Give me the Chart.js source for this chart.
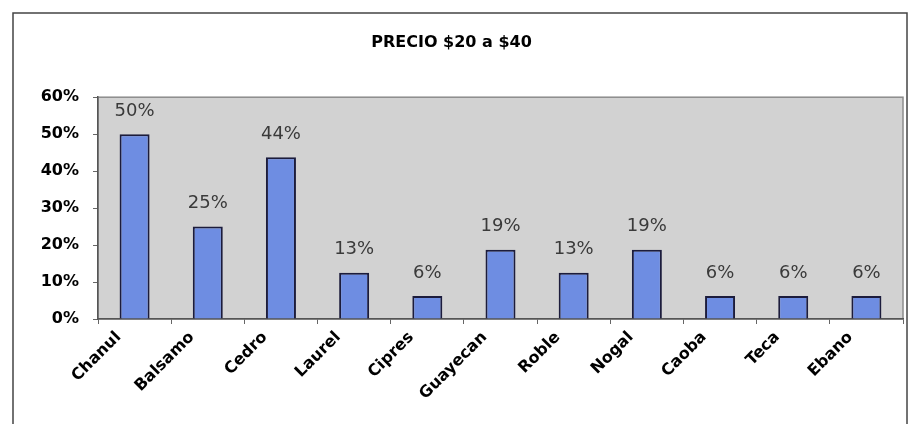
<!DOCTYPE html>
<html>
<head>
<meta charset="utf-8">
<script src="https://cdn.jsdelivr.net/npm/chart.js@4"></script>
<style>
  html, body { margin: 0; padding: 0; background: #fff; }
  #wrap { width: 908px; height: 424px; }
</style>
</head>
<body>
<div id="wrap"><canvas id="graf" width="908" height="424"></canvas></div>
<script>
// datos
const maderas = ['Chanul', 'Balsamo', 'Cedro', 'Laurel', 'Cipres', 'Guayecan', 'Roble', 'Nogal', 'Caoba', 'Teca', 'Ebano']
const porcentajes = [0.5, 0.25, 0.4375, 0.125, 0.0625, 0.1875, 0.125, 0.1875, 0.0625, 0.0625, 0.0625]
const titulo = 'PRECIO $20 a $40'

const pct = v => Math.round(v * 100) + '%'
const fuente = '"DejaVu Sans", sans-serif'

// fondo gris del area de trazado + marco exterior
const fondo = {
    id: 'fondo',
    beforeDraw(chart) {
        const { ctx, chartArea: a } = chart
        ctx.save()
        ctx.fillStyle = '#d2d2d2'
        ctx.fillRect(a.left, a.top, a.right - a.left, a.bottom - a.top)
        ctx.strokeStyle = '#8c8c8c'
        ctx.lineWidth = 1.5
        ctx.strokeRect(a.left, a.top, a.right - a.left, a.bottom - a.top)
        ctx.strokeStyle = '#444'
        ctx.lineWidth = 1.5
        ctx.strokeRect(13, 13, 894, 420)
        ctx.restore()
    }
}

// etiquetas encima de las barras
const etiquetas = {
    id: 'etiquetas',
    afterDatasetsDraw(chart) {
        const { ctx } = chart
        const meta = chart.getDatasetMeta(0)
        ctx.save()
        ctx.font = '18px ' + fuente
        ctx.fillStyle = '#3a3a3a'
        ctx.textAlign = 'center'
        ctx.textBaseline = 'bottom'
        meta.data.forEach((bar, i) => {
            ctx.fillText(pct(porcentajes[i]), bar.x, bar.y - 14)
        })
        ctx.restore()
    }
}

const ctx = document.getElementById('graf').getContext('2d')

new Chart(ctx, {
    type: 'bar',
    data: {
        labels: maderas,
        datasets: [{
            data: porcentajes,
            backgroundColor: '#6e8de2',
            borderColor: '#1c1c3c',
            borderWidth: 2,
            categoryPercentage: 1,
            barPercentage: 0.41
        }]
    },
    options: {
        responsive: false,
        animation: false,
        layout: { padding: { left: 0, right: 5, top: 0, bottom: 0 } },
        plugins: {
            legend: { display: false },
            tooltip: { enabled: false },
            title: {
                display: true,
                text: titulo,
                color: '#000',
                font: { family: fuente, size: 16, weight: 'bold' },
                padding: { top: 33, bottom: 45 }
            }
        },
        scales: {
            x: {
                grid: { display: true, drawOnChartArea: false, tickLength: 5, color: '#666', offset: true },
                border: { color: '#555', width: 1.5 },
                ticks: {
                    color: '#000',
                    maxRotation: 45,
                    minRotation: 45,
                    autoSkip: false,
                    padding: 4,
                    labelOffset: -16,
                    font: { family: fuente, size: 16, weight: 'bold' }
                },
                afterFit(scale) { scale.height = 105 }
            },
            y: {
                min: 0,
                max: 0.6,
                grid: { display: true, drawOnChartArea: false, tickLength: 5, color: '#666' },
                border: { color: '#555', width: 1.5 },
                ticks: {
                    stepSize: 0.1,
                    color: '#000',
                    padding: 14,
                    callback: v => pct(v),
                    font: { family: fuente, size: 16, weight: 'bold' }
                },
                afterFit(scale) { scale.width = 98 }
            }
        }
    },
    plugins: [fondo, etiquetas]
})
</script>
</body>
</html>
